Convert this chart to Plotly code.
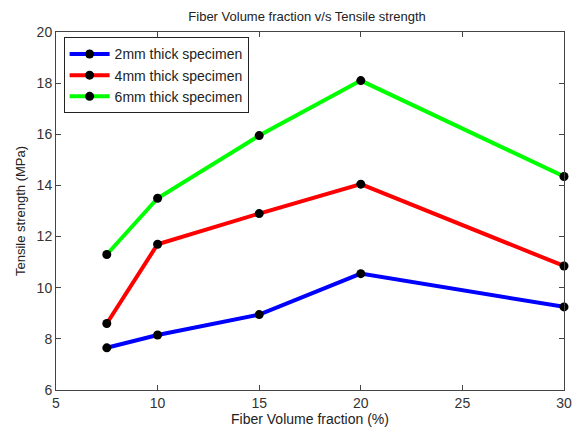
import plotly.graph_objects as go

fiber_fraction = [7.5, 10, 15, 20, 30]
strength_2mm = [7.65, 8.15, 8.95, 10.55, 9.25]
strength_4mm = [8.6, 11.7, 12.9, 14.05, 10.85]
strength_6mm = [11.3, 13.5, 15.95, 18.1, 14.35]
series_names = ["2mm thick specimen", "4mm thick specimen", "6mm thick specimen"]
series_colors = ["#0000ff", "#ff0000", "#00ff00"]
x_ticks = [5, 10, 15, 20, 25, 30]
y_ticks = [6, 8, 10, 12, 14, 16, 18, 20]

fig = go.Figure()
for name, vals, col in zip(series_names, [strength_2mm, strength_4mm, strength_6mm], series_colors):
    fig.add_trace(go.Scatter(
        x=fiber_fraction, y=vals, name=name, mode="lines+markers",
        line=dict(color=col, width=4),
        marker=dict(color="black", size=9, symbol="circle"),
        cliponaxis=False,
    ))

axis_common = dict(
    showgrid=False, zeroline=False, showline=True, linecolor="#444", linewidth=1,
    mirror="allticks", ticks="inside", ticklen=5, tickcolor="#444", automargin=False,
    ticklabeloverflow="allow",
    tickfont=dict(family="Liberation Sans, Arial", size=14, color="#333"),
)
fig.update_xaxes(range=[5, 30], tickvals=x_ticks,
                 title=dict(text="Fiber Volume fraction (%)", standoff=2,
                            font=dict(family="Liberation Sans, Arial", size=14, color="#222")),
                 **axis_common)
fig.update_yaxes(range=[6, 20], tickvals=y_ticks,
                 title=dict(text="Tensile strength (MPa)", standoff=8,
                            font=dict(family="Liberation Sans, Arial", size=13, color="#222")),
                 **axis_common)

fig.update_layout(
    width=574, height=430,
    margin=dict(l=56, r=10, t=32, b=40),
    paper_bgcolor="white", plot_bgcolor="white",
    title=dict(text="Fiber Volume fraction v/s Tensile strength", x=0.535, xanchor="center",
               y=0.962, yanchor="middle",
               font=dict(family="Liberation Sans, Arial", size=13, color="#222")),
    legend=dict(x=0.015, y=0.985, xanchor="left", yanchor="top",
                bgcolor="white", bordercolor="#222", borderwidth=1,
                font=dict(family="Liberation Sans, Arial", size=14, color="#222"),
                tracegroupgap=0, itemwidth=40),
    showlegend=True,
)

fig.write_html("out.html", config={"displayModeBar": False},
               post_script="document.body.style.margin='0';document.body.style.overflow='hidden';")
